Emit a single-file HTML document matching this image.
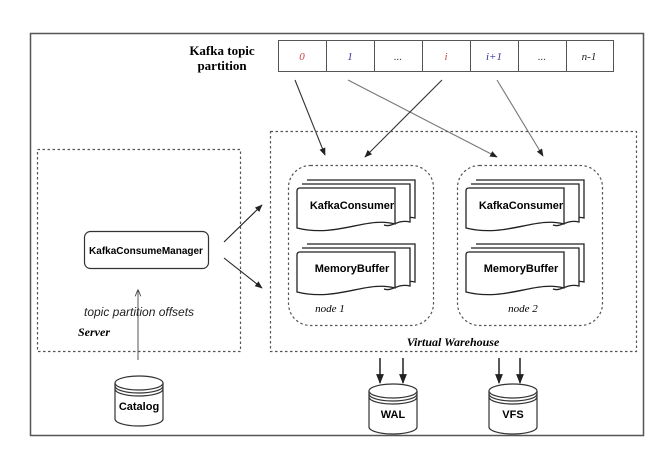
<!DOCTYPE html>
<html><head><meta charset="utf-8"><style>
html,body{margin:0;padding:0;background:#fff;}
svg{display:block;}
text{font-family:"Liberation Sans",Arial,sans-serif;}
text.s,.s text{font-family:"Liberation Serif",serif;}
</style></head><body>
<svg width="671" height="468" viewBox="0 0 671 468" xmlns="http://www.w3.org/2000/svg">
<defs>
<marker id="a" viewBox="0 0 10 10" refX="9" refY="5" markerWidth="7" markerHeight="7" orient="auto-start-reverse"><path d="M0,1 L10,5 L0,9 Z" fill="#222"/></marker>
<marker id="h" viewBox="0 0 10 10" refX="9" refY="5" markerWidth="7" markerHeight="7" orient="auto"><path d="M0,1 L10,5 L0,9" fill="none" stroke="#444" stroke-width="1.2"/></marker>
<g id="doc">
<path d="M10,-8 H118 V30 C105,27 100,36 92,33" fill="#fff" stroke="#222" stroke-width="1.3"/>
<path d="M5,-4 H113 V34 C100,31 95,40 87,37" fill="#fff" stroke="#222" stroke-width="1.3"/>
<path d="M0,3 Q0,0 3,0 H98 V36 C70,28 40,50 0,40 Z" fill="#fff" stroke="#222" stroke-width="1.3"/>
</g>
<g id="cyl">
<path d="M0,8 V44 A24,7 0 0 0 48,44 V8" fill="#fff" stroke="#333" stroke-width="1.2"/>
<ellipse cx="24" cy="8" rx="24" ry="7" fill="#fff" stroke="#333" stroke-width="1.2"/>
<path d="M0,11 A24,7 0 0 0 48,11 M0,14 A24,7 0 0 0 48,14" fill="none" stroke="#333" stroke-width="1.2"/>
</g>
</defs>
<rect x="30.5" y="33.5" width="613" height="402" fill="#fff" stroke="#555" stroke-width="1.5"/>
<text x="222" y="55" text-anchor="middle" class="s" font-weight="bold" font-size="13">Kafka topic</text>
<text x="222" y="70" text-anchor="middle" class="s" font-weight="bold" font-size="13">partition</text>
<g stroke="#555" stroke-width="1" fill="none">
<rect x="278.5" y="40.5" width="335" height="31"/>
<path d="M326.5,40v32M374.5,40v32M422.5,40v32M470.5,40v32M518.5,40v32M566.5,40v32"/>
</g>
<g class="s" font-style="italic" font-size="11" text-anchor="middle">
<text x="302" y="60" fill="#c44">0</text>
<text x="350" y="60" fill="#339">1</text>
<text x="398" y="60" fill="#444">...</text>
<text x="446" y="60" fill="#c44">i</text>
<text x="494" y="60" fill="#339">i+1</text>
<text x="542" y="60" fill="#444">...</text>
<text x="589" y="60" fill="#222">n-1</text>
</g>
<g stroke="#333" stroke-width="1.1" fill="none" marker-end="url(#a)">
<line x1="295" y1="80" x2="325" y2="155"/>
<line x1="348" y1="80" x2="497" y2="157" stroke="#777"/>
<line x1="442" y1="80" x2="365" y2="157"/>
<line x1="497" y1="80" x2="543" y2="156" stroke="#777"/>
</g>
<g fill="none" stroke="#555" stroke-width="1.2" stroke-dasharray="2.5,2.5">
<rect x="270.5" y="131.5" width="366" height="220"/>
<rect x="37.5" y="149.5" width="203" height="202"/>
<rect x="288.5" y="165.5" width="145" height="160" rx="22"/>
<rect x="457.5" y="165.5" width="145" height="160" rx="22"/>
</g>
<use href="#doc" x="297" y="188"/>
<use href="#doc" x="297" y="252"/>
<use href="#doc" x="466" y="188"/>
<use href="#doc" x="466" y="252"/>
<g font-weight="bold" font-size="11" text-anchor="middle">
<text x="352" y="209">KafkaConsumer</text>
<text x="352" y="272">MemoryBuffer</text>
<text x="521" y="209">KafkaConsumer</text>
<text x="521" y="272">MemoryBuffer</text>
</g>
<text x="330" y="312" text-anchor="middle" class="s" font-style="italic" font-size="11">node 1</text>
<text x="523" y="312" text-anchor="middle" class="s" font-style="italic" font-size="11">node 2</text>
<text x="453" y="346" text-anchor="middle" class="s" font-style="italic" font-weight="bold" font-size="12">Virtual Warehouse</text>
<rect x="84.5" y="231.5" width="124" height="37" rx="6" fill="#fff" stroke="#333" stroke-width="1.2"/>
<text x="146" y="254" text-anchor="middle" font-weight="bold" font-size="10">KafkaConsumeManager</text>
<g stroke="#222" stroke-width="1.1" marker-end="url(#a)">
<line x1="224" y1="242" x2="262" y2="205"/>
<line x1="224" y1="258" x2="262" y2="288"/>
</g>
<line x1="138" y1="360" x2="138" y2="290" stroke="#555" stroke-width="1" marker-end="url(#h)"/>
<text x="84" y="316" font-style="italic" font-size="12" fill="#222">topic partition offsets</text>
<text x="78" y="336" class="s" font-style="italic" font-weight="bold" font-size="12">Server</text>
<use href="#cyl" x="115" y="375"/>
<text x="139" y="410" text-anchor="middle" font-weight="bold" font-size="11">Catalog</text>
<use href="#cyl" x="369" y="383"/>
<text x="393" y="418" text-anchor="middle" font-weight="bold" font-size="11">WAL</text>
<use href="#cyl" x="489" y="383"/>
<text x="513" y="418" text-anchor="middle" font-weight="bold" font-size="11">VFS</text>
<g stroke="#111" stroke-width="1.4" marker-end="url(#a)">
<line x1="380" y1="358" x2="380" y2="383"/>
<line x1="403" y1="358" x2="403" y2="383"/>
<line x1="499" y1="358" x2="499" y2="383"/>
<line x1="520" y1="358" x2="520" y2="383"/>
</g>
</svg>
</body></html>
